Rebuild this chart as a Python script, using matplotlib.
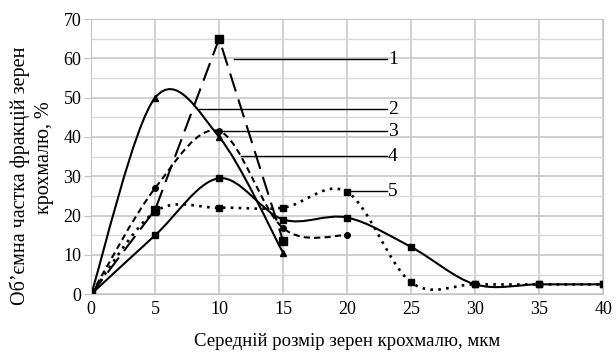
import numpy as np
import matplotlib
matplotlib.use('Agg')
import matplotlib.pyplot as plt
from matplotlib.path import Path
from matplotlib.patches import PathPatch

plt.rcParams['font.family'] = ['Liberation Serif', 'DejaVu Serif']

# data
x_short = [0, 5, 10, 15]
s1 = [0, 21.5, 65, 13.5]            # long dash, squares
s2 = [0, 50, 40, 10.5]              # solid, triangles
x_s3 = [0, 5, 10, 15, 20]
s3 = [0, 27, 41.5, 16.8, 15]        # short dash
x_long = [0, 5, 10, 15, 20, 25, 30, 35, 40]
s4 = [0, 15, 29.5, 19, 19.5, 12, 2.5, 2.5, 2.5]   # solid, squares
s5 = [0, 21, 22, 22, 26, 3, 2.5, 2.5, 2.5]         # dotted, squares

labels = ['1', '2', '3', '4', '5']
label_y = [59.8, 47.1, 41.5, 35.1, 26.2]
leader_x0 = [11.2, 8.4, 10.0, 11.7, 19.8]
label_x = 23.2


def smooth(ax, xs, ys, **kw):
    # Excel-like smoothed line: Catmull-Rom as cubic Bezier
    xs = np.asarray(xs, float)
    ys = np.asarray(ys, float)
    pts = np.column_stack([xs, ys])
    verts = [pts[0]]
    codes = [Path.MOVETO]
    n = len(pts)
    for i in range(n - 1):
        p0 = pts[i - 1] if i > 0 else pts[i]
        p1 = pts[i]
        p2 = pts[i + 1]
        p3 = pts[i + 2] if i + 2 < n else pts[i + 1]
        c1 = p1 + (p2 - p0) / 6.0
        c2 = p2 - (p3 - p1) / 6.0
        verts += [c1, c2, p2]
        codes += [Path.CURVE4] * 3
    patch = PathPatch(Path(verts, codes), facecolor='none', **kw)
    ax.add_patch(patch)


fig = plt.figure(figsize=(6.16, 3.54), dpi=100)
ax = fig.add_axes([0.148, 0.169, 0.831, 0.777])

ax.set_xlim(0, 40)
ax.set_ylim(0, 70)
ax.set_xticks(range(0, 41, 5))
ax.set_yticks(range(0, 71, 10))
ax.set_yticks(range(5, 70, 10), minor=True)
ax.grid(True, which='major', color='#c4c4c4', lw=1.1)
ax.grid(True, which='minor', axis='y', color='#d9d9d9', lw=1.0)
ax.set_axisbelow(True)
for sp in ax.spines.values():
    sp.set_color('#c4c4c4')
ax.tick_params(axis='x', length=0, labelsize=13, pad=5)
ax.tick_params(axis='y', length=5, color='#c4c4c4', labelsize=13, pad=2)
ax.tick_params(axis='y', which='minor', length=0)

ax.plot(x_short, s1, color='black', lw=1.5, ls=(0, (9, 4)))
smooth(ax, x_short, s2, edgecolor='black', lw=1.5)
smooth(ax, x_s3, s3, edgecolor='black', lw=1.5, linestyle=(0, (3, 2)))
smooth(ax, x_long, s4, edgecolor='black', lw=1.5)
smooth(ax, x_long, s5, edgecolor='black', lw=1.9, linestyle=(0, (1, 2)))

ax.plot(x_short, s1, ls='none', marker='s', ms=6, color='black')
ax.plot(x_short, s2, ls='none', marker='^', ms=5, color='black')
ax.plot(x_s3, s3, ls='none', marker='o', ms=4, color='black')
ax.plot(x_long, s4, ls='none', marker='s', ms=5, color='black')
ax.plot(x_long, s5, ls='none', marker='s', ms=5, color='black')

for lab, ly, lx0 in zip(labels, label_y, leader_x0):
    ax.plot([lx0, label_x - 0.1], [ly, ly], color='black', lw=1.0)
    ax.text(label_x, ly, lab, fontsize=14, ha='left', va='center')

ax.set_xlabel('Середній розмір зерен крохмалю, мкм', fontsize=13.5, labelpad=11)
fig.text(20 / 616, 1 - 176 / 354, 'Об’ємна частка фракцій зерен', rotation=90,
         fontsize=14.5, ha='center', va='center')
fig.text(44 / 616, 1 - 158 / 354, 'крохмалю, %', rotation=90,
         fontsize=14.5, ha='center', va='center')

fig.savefig('out.png', dpi=100)
